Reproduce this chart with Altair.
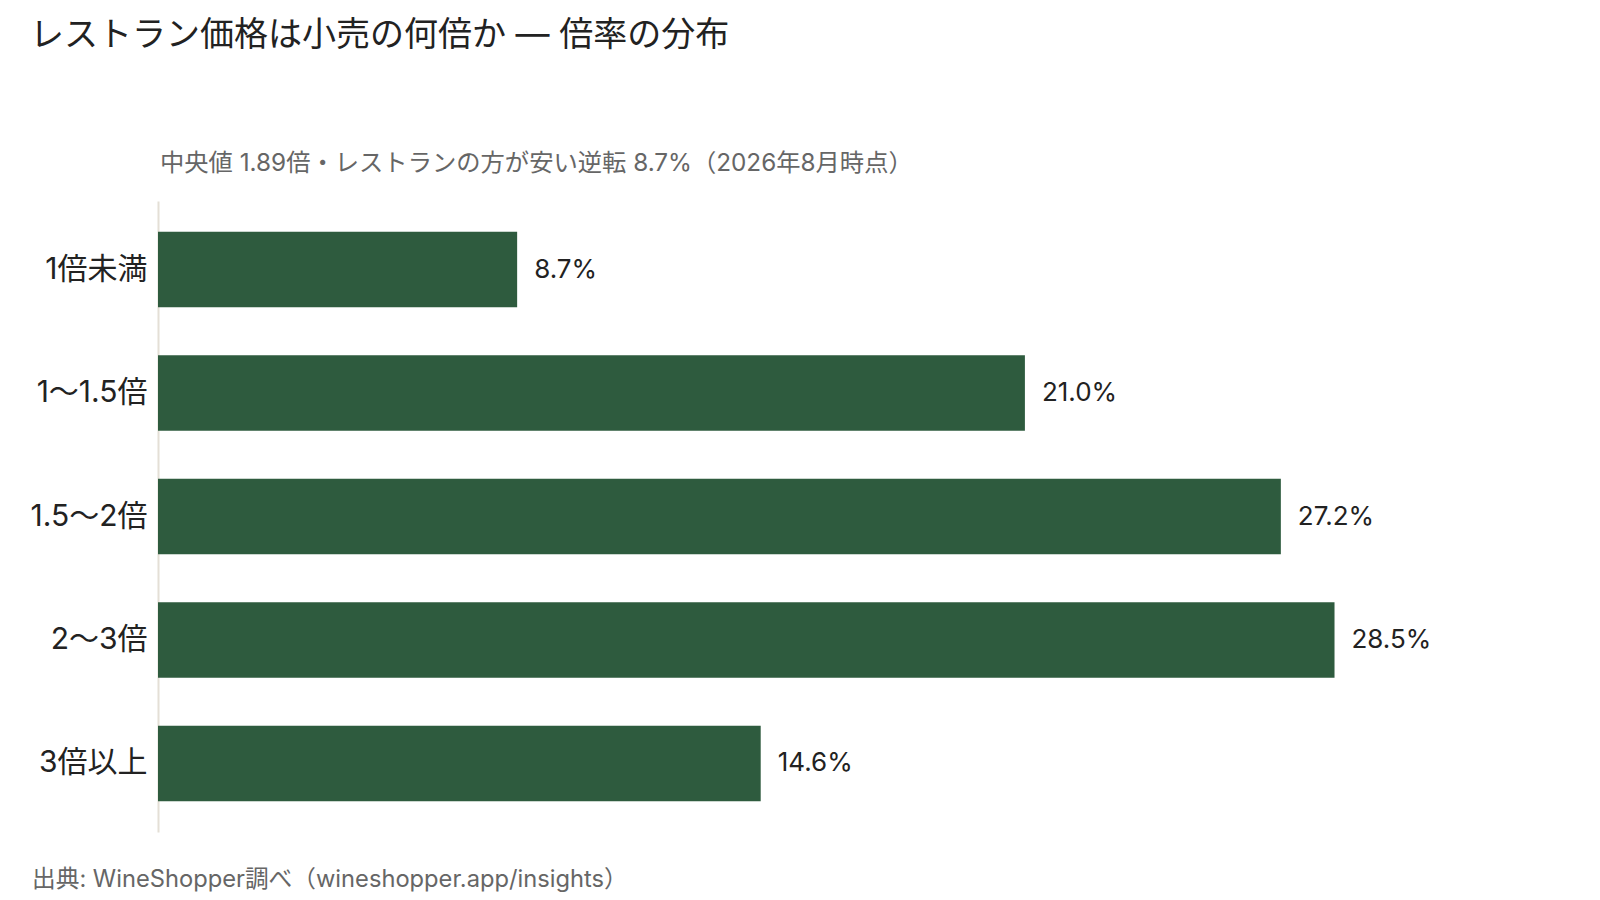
import altair as alt
import pandas as pd

categories = ["1倍未満", "1〜1.5倍", "1.5〜2倍", "2〜3倍", "3倍以上"]
shares = [8.7, 21.0, 27.2, 28.5, 14.6]

title_text = "レストラン価格は小売の何倍か — 倍率の分布"
subtitle_text = "中央値 1.89倍・レストランの方が安い逆転 8.7%（2026年8月時点）"
source_text = "出典: WineShopper調べ（wineshopper.app/insights）"

FONT = "Inter, Noto Sans CJK JP"
BAR = "#2e5b3e"

df = pd.DataFrame({"cat": categories, "share": shares})
df["label"] = [f"{v:.1f}%" for v in shares]

W, H = 1321, 631

base = alt.Chart(df)

bars = base.mark_bar(color=BAR).encode(
    y=alt.Y("cat:N", sort=categories, title=None,
            scale=alt.Scale(paddingInner=0.39, paddingOuter=0.25),
            axis=alt.Axis(ticks=False, labelPadding=11, labelFontSize=30,
                          labelColor="#222222", labelFont=FONT,
                          domainColor="#e4dfd6", domainWidth=2)),
    x=alt.X("share:Q", scale=alt.Scale(domain=[0, 32], nice=False), axis=None),
)

text = base.mark_text(align="left", baseline="middle", dx=17, fontSize=26,
                      font=FONT, color="#222222").encode(
    y=alt.Y("cat:N", sort=categories),
    x="share:Q",
    text="label:N",
)

sub = alt.Chart(pd.DataFrame({"t": [subtitle_text]})).mark_text(
    align="left", baseline="middle", fontSize=24.3, font=FONT, color="#666666"
).encode(x=alt.value(2), y=alt.value(-37), text="t:N")

foot = alt.Chart(pd.DataFrame({"t": [source_text]})).mark_text(
    align="left", baseline="middle", fontSize=23.7, font=FONT, color="#666666"
).encode(x=alt.value(-126), y=alt.value(679), text="t:N")

chart = alt.layer(bars, text, sub, foot).properties(
    width=W, height=H,
    background="white",
    title=alt.TitleParams(title_text, anchor="start", frame="bounds",
                          fontSize=34, font=FONT, fontWeight="normal",
                          color="#222222", offset=99),
    padding={"left": 150, "top": 193, "right": 10, "bottom": 64},
    autosize=alt.AutoSizeParams(type="none"),
).configure_view(stroke="transparent", strokeWidth=0)

chart.save("out.html", embed_options={"renderer": "svg", "actions": False})
